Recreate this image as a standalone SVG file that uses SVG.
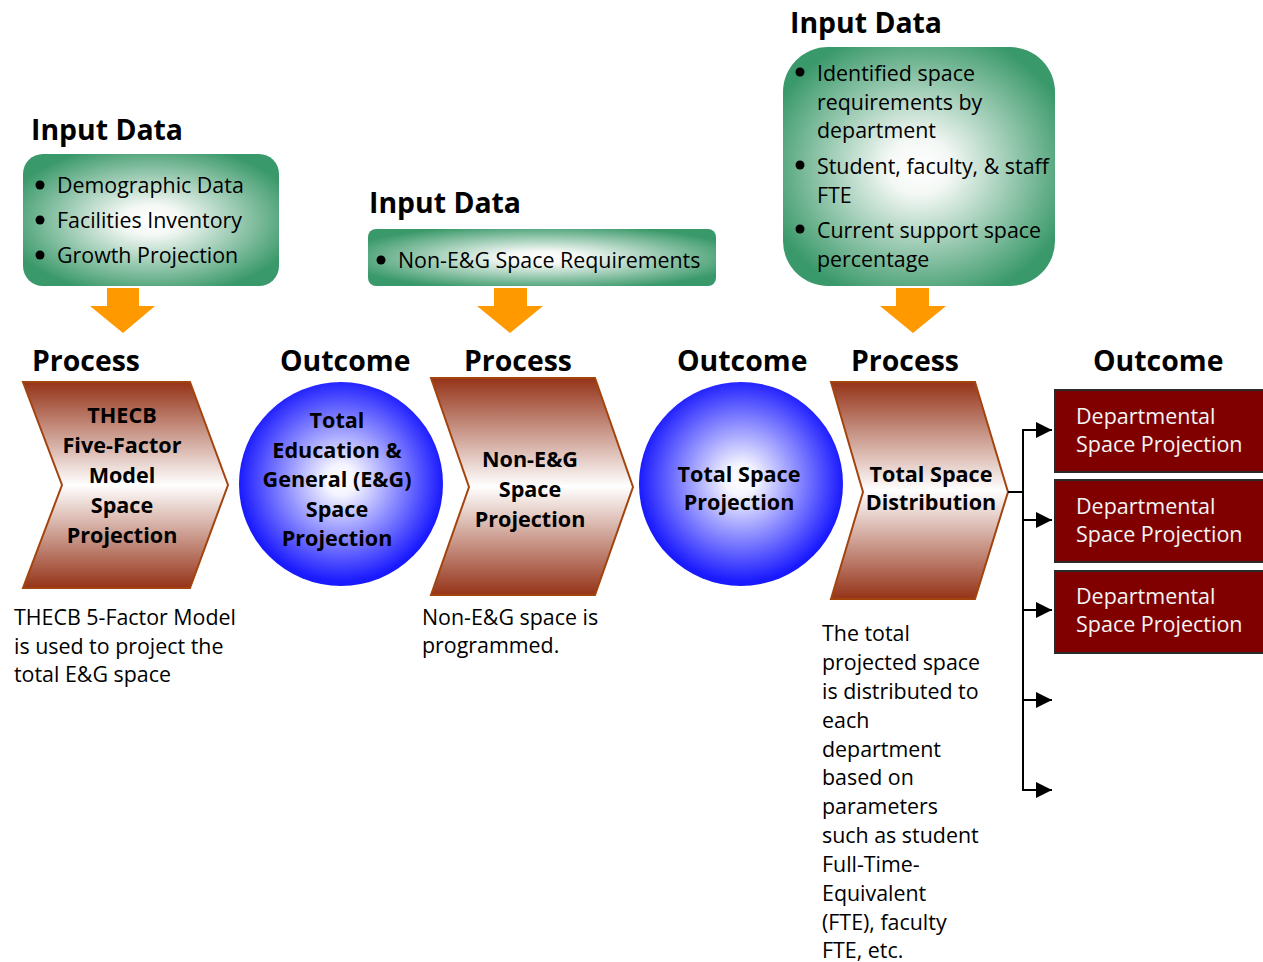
<svg xmlns="http://www.w3.org/2000/svg" width="1263" height="962" viewBox="0 0 1263 962">
<defs>
<radialGradient id="gGreen" cx="50%" cy="50%" r="58%">
<stop offset="0" stop-color="#ffffff"/>
<stop offset="0.2" stop-color="#f4f8f5"/>
<stop offset="1" stop-color="#3a996a"/>
</radialGradient>
<linearGradient id="gChev" x1="0" y1="0" x2="0" y2="1">
<stop offset="0" stop-color="#953318"/>
<stop offset="0.5" stop-color="#ffffff"/>
<stop offset="1" stop-color="#953318"/>
</linearGradient>
<radialGradient id="gBlue" cx="50%" cy="48%" r="50%">
<stop offset="0" stop-color="#ffffff"/>
<stop offset="0.15" stop-color="#f4f4ff"/>
<stop offset="1" stop-color="#1a1aff"/>
</radialGradient>
<marker id="arr" markerUnits="userSpaceOnUse" markerWidth="18" markerHeight="18" refX="16" refY="8" orient="auto">
<path d="M0,0 L16,8 L0,16 Z" fill="#000"/>
</marker>
</defs>
<style>
.h{font-family:"Open Sans","Liberation Sans",sans-serif;font-weight:bold;font-size:28.4px;fill:#000}
.t{font-family:"Open Sans","Liberation Sans",sans-serif;font-size:21.4px;fill:#000}
.b{font-family:"Open Sans","Liberation Sans",sans-serif;font-weight:bold;font-size:21.6px;fill:#000;text-anchor:middle}
.w{font-family:"Open Sans","Liberation Sans",sans-serif;font-size:21.5px;fill:#f4f4f4}
.green{fill:url(#gGreen)}
.chev{fill:url(#gChev);stroke:#a3440f;stroke-width:2}
.circ{fill:url(#gBlue)}
.dept{fill:#800000;stroke:#2a2a2a;stroke-width:2}
.orange{fill:#ff9900}
.conn{fill:none;stroke:#000;stroke-width:2}
</style>

<g id="headings">
<text class="h" x="31" y="140">Input Data</text>
<text class="h" x="369" y="213">Input Data</text>
<text class="h" x="790" y="33">Input Data</text>
<text class="h" x="32" y="371">Process</text>
<text class="h" x="280" y="371">Outcome</text>
<text class="h" x="464" y="371">Process</text>
<text class="h" x="677" y="371">Outcome</text>
<text class="h" x="851" y="371">Process</text>
<text class="h" x="1093" y="371">Outcome</text>
</g>

<g id="input1">
<rect class="green" x="23" y="154" width="256" height="132" rx="20"/>
<circle cx="40" cy="185" r="4.5"/><circle cx="40" cy="220" r="4.5"/><circle cx="40" cy="255" r="4.5"/>
<text class="t" x="57" y="193">Demographic Data</text>
<text class="t" x="57" y="228">Facilities Inventory</text>
<text class="t" x="57" y="263">Growth Projection</text>
</g>

<g id="input2">
<rect class="green" x="368" y="229" width="348" height="57" rx="8"/>
<circle cx="381" cy="260" r="4.5"/>
<text class="t" x="398" y="268">Non-E&amp;G Space Requirements</text>
</g>

<g id="input3">
<rect class="green" x="783" y="47" width="272" height="239" rx="45"/>
<circle cx="800" cy="72" r="4.5"/><circle cx="800" cy="165" r="4.5"/><circle cx="800" cy="229" r="4.5"/>
<text class="t" x="817" y="81">Identified space</text>
<text class="t" x="817" y="110">requirements by</text>
<text class="t" x="817" y="138">department</text>
<text class="t" x="817" y="174">Student, faculty, &amp; staff</text>
<text class="t" x="817" y="203">FTE</text>
<text class="t" x="817" y="238">Current support space</text>
<text class="t" x="817" y="267">percentage</text>
</g>

<g id="arrows-down">
<path class="orange" d="M107,288 H139 V306 H155 L123,333 L90,306 H107 Z"/>
<path class="orange" d="M494,288 H527 V306 H543 L510,333 L477,306 H494 Z"/>
<path class="orange" d="M896,288 H929 V306 H946 L913,333 L880,306 H896 Z"/>
</g>

<g id="process1">
<path class="chev" d="M23,382 H190 L228,485 L190,588 H23 L62,485 Z"/>
<text class="b" x="122" y="423">THECB</text>
<text class="b" x="122" y="453">Five-Factor</text>
<text class="b" x="122" y="483">Model</text>
<text class="b" x="122" y="513">Space</text>
<text class="b" x="122" y="543">Projection</text>
</g>

<g id="outcome1">
<circle class="circ" cx="341" cy="484" r="102"/>
<text class="b" x="337" y="428">Total</text>
<text class="b" x="337" y="458">Education &amp;</text>
<text class="b" x="337" y="487">General (E&amp;G)</text>
<text class="b" x="337" y="517">Space</text>
<text class="b" x="337" y="546">Projection</text>
</g>

<g id="process2">
<path class="chev" d="M431,378 H595 L633,487 L595,595 H431 L469,487 Z"/>
<text class="b" x="530" y="467">Non-E&amp;G</text>
<text class="b" x="530" y="497">Space</text>
<text class="b" x="530" y="527">Projection</text>
</g>

<g id="outcome2">
<circle class="circ" cx="741" cy="484" r="102"/>
<text class="b" x="739" y="482">Total Space</text>
<text class="b" x="739" y="510">Projection</text>
</g>

<g id="process3">
<path class="chev" d="M831,382 H975 L1008,492 L975,599 H831 L863,492 Z"/>
<text class="b" x="931" y="482">Total Space</text>
<text class="b" x="931" y="510">Distribution</text>
</g>

<g id="dept1">
<rect class="dept" x="1055" y="390" width="210" height="82"/>
<text class="w" x="1076" y="424">Departmental</text>
<text class="w" x="1076" y="452">Space Projection</text>
</g>
<g id="dept2">
<rect class="dept" x="1055" y="480" width="210" height="82"/>
<text class="w" x="1076" y="514">Departmental</text>
<text class="w" x="1076" y="542">Space Projection</text>
</g>
<g id="dept3">
<rect class="dept" x="1055" y="571" width="210" height="82"/>
<text class="w" x="1076" y="604">Departmental</text>
<text class="w" x="1076" y="632">Space Projection</text>
</g>

<g id="connectors">
<path class="conn" d="M1008,492 H1023 M1023,429 V791"/>
<path class="conn" d="M1022,430 H1052" marker-end="url(#arr)"/>
<path class="conn" d="M1022,520 H1052" marker-end="url(#arr)"/>
<path class="conn" d="M1022,610 H1052" marker-end="url(#arr)"/>
<path class="conn" d="M1022,700 H1052" marker-end="url(#arr)"/>
<path class="conn" d="M1022,790 H1052" marker-end="url(#arr)"/>
</g>

<g id="desc1">
<text class="t" x="14" y="625">THECB 5-Factor Model</text>
<text class="t" x="14" y="654">is used to project the</text>
<text class="t" x="14" y="682">total E&amp;G space</text>
</g>
<g id="desc2">
<text class="t" x="422" y="625">Non-E&amp;G space is</text>
<text class="t" x="422" y="653">programmed.</text>
</g>
<g id="desc3">
<text class="t" x="822" y="641">The total</text>
<text class="t" x="822" y="670">projected space</text>
<text class="t" x="822" y="699">is distributed to</text>
<text class="t" x="822" y="728">each</text>
<text class="t" x="822" y="757">department</text>
<text class="t" x="822" y="785">based on</text>
<text class="t" x="822" y="814">parameters</text>
<text class="t" x="822" y="843">such as student</text>
<text class="t" x="822" y="872">Full-Time-</text>
<text class="t" x="822" y="901">Equivalent</text>
<text class="t" x="822" y="930">(FTE), faculty</text>
<text class="t" x="822" y="958">FTE, etc.</text>
</g>
</svg>
